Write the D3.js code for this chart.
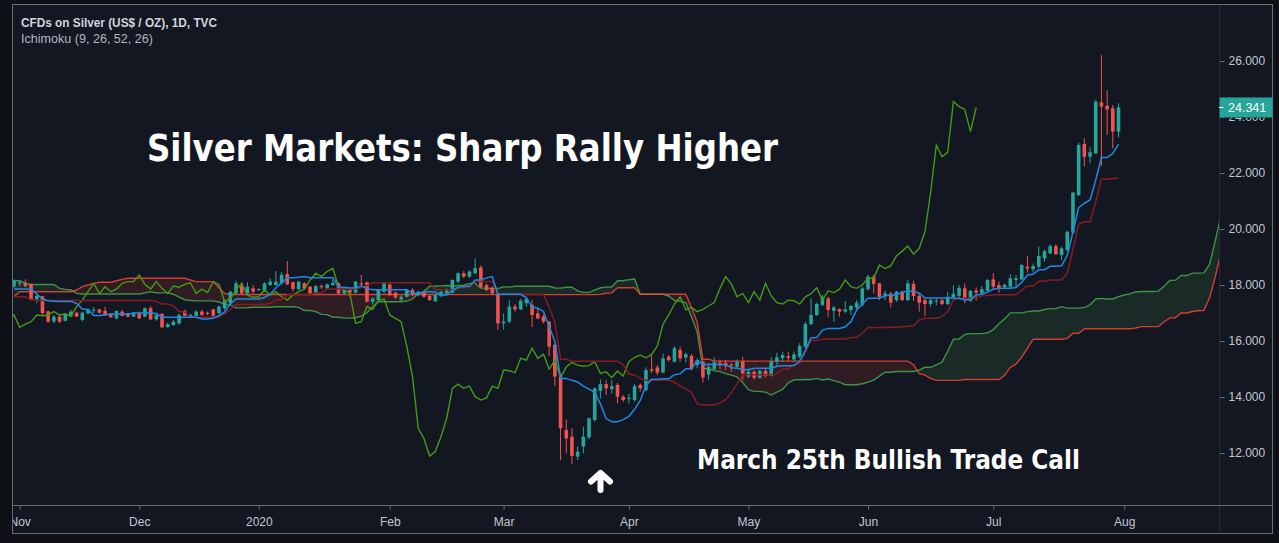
<!DOCTYPE html>
<html>
<head>
<meta charset="utf-8">
<script src="https://cdn.jsdelivr.net/npm/d3@7"></script>
<style>
  html, body { margin: 0; padding: 0; background: #0e1015; }
  svg { display: block; }
</style>
</head>
<body>
<svg id="chart" width="1279" height="543"></svg>
<script>
// daily bars, Oct 31 2019 .. Jul 31 2020 (index 0 .. 194)
var opens = [
  17.95,18.05,18.08,18.03,17.49,17.60,17.06,16.70,16.87,16.72,
  16.88,17.01,16.75,16.99,17.08,17.13,17.08,16.97,16.81,17.05,
  16.99,16.87,17.01,16.87,17.17,16.77,16.97,16.50,16.57,16.63,
  17.08,16.88,16.90,17.05,17.01,17.13,16.99,17.17,17.35,17.70,
  17.96,17.70,17.88,17.82,17.80,18.00,18.00,18.06,18.39,18.10,
  17.85,18.06,17.94,17.73,17.96,17.88,18.00,18.06,17.70,17.82,
  17.73,18.06,18.10,17.40,17.46,17.76,18.02,17.73,17.48,17.58,
  17.82,17.64,17.76,17.61,17.42,17.60,17.70,17.73,18.12,18.42,
  18.30,18.42,18.63,18.00,17.90,17.70,16.63,16.69,17.23,17.13,
  17.35,17.29,16.99,16.87,16.69,15.86,14.73,12.82,12.58,11.87,
  12.23,12.56,13.18,14.22,14.46,14.28,14.43,14.01,13.93,13.89,
  14.43,14.25,14.99,15.06,14.87,15.44,15.26,15.68,15.41,15.47,
  15.14,15.26,14.80,15.00,15.22,15.22,15.16,15.08,15.26,14.73,
  14.90,14.69,14.93,14.75,15.26,15.38,15.46,15.34,15.44,15.80,
  16.60,16.93,17.29,17.52,17.08,17.14,17.05,17.11,17.20,17.29,
  17.85,18.30,18.06,17.61,17.70,17.46,17.76,17.46,18.04,17.61,
  17.46,17.32,17.41,17.46,17.32,17.55,17.61,17.88,17.44,17.80,
  17.70,17.80,18.20,18.00,17.92,17.94,18.18,18.20,18.65,18.56,
  18.65,18.95,19.13,19.39,19.07,19.25,19.87,21.21,23.04,22.58,
  22.70,24.52,24.40,24.31,23.48
];
var highs = [
  18.20,18.15,18.20,18.05,17.65,17.62,17.08,16.93,16.95,17.00,
  17.10,17.05,17.05,17.15,17.20,17.15,17.22,17.00,17.10,17.10,
  17.00,17.05,17.05,17.20,17.25,16.95,17.00,16.65,16.75,16.98,
  17.12,16.98,17.10,17.12,17.05,17.15,17.27,17.50,17.80,18.15,
  18.10,18.10,18.00,17.88,18.10,18.24,18.50,18.45,18.86,18.12,
  18.15,18.10,17.96,18.00,18.02,18.06,18.20,18.10,17.92,17.86,
  18.15,18.36,18.12,17.56,17.85,18.10,18.10,17.76,17.62,17.86,
  17.88,17.80,17.80,17.64,17.68,17.80,17.88,18.20,18.45,18.50,
  18.52,18.95,18.70,18.05,17.95,17.72,16.99,17.46,17.32,17.50,
  17.58,17.46,17.17,16.95,16.72,15.90,14.85,13.20,12.88,12.23,
  12.94,13.27,14.34,14.63,14.61,14.61,14.50,14.07,14.13,14.46,
  14.48,15.06,15.50,15.14,15.54,15.50,15.82,15.80,15.58,15.54,
  15.38,15.30,15.20,15.42,15.34,15.32,15.22,15.34,15.44,15.02,
  14.96,14.98,15.00,15.42,15.58,15.62,15.62,15.62,15.92,16.69,
  17.52,17.37,17.64,17.58,17.25,17.17,17.43,17.29,17.46,17.94,
  18.36,18.36,18.08,17.80,17.76,17.79,17.80,18.18,18.15,17.70,
  17.52,17.52,17.52,17.52,17.76,17.99,17.99,18.06,17.82,17.92,
  17.96,18.21,18.42,18.12,18.06,18.39,18.36,18.75,19.04,18.77,
  19.37,19.27,19.46,19.46,19.37,19.94,21.33,23.08,23.24,22.92,
  24.61,26.21,24.96,24.43,24.49
];
var lows = [
  17.90,17.95,17.92,17.45,17.35,16.93,16.65,16.63,16.63,16.70,
  16.85,16.85,16.70,16.95,17.00,16.99,16.90,16.83,16.78,16.88,
  16.85,16.85,16.78,16.85,16.75,16.72,16.45,16.47,16.55,16.58,
  16.88,16.85,16.88,16.90,16.92,16.85,16.96,17.10,17.30,17.65,
  17.65,17.65,17.70,17.80,17.75,17.97,17.98,18.02,18.00,17.76,
  17.82,17.85,17.66,17.70,17.85,17.85,17.97,17.66,17.64,17.58,
  17.70,18.00,17.38,17.30,17.42,17.70,17.60,17.50,17.42,17.55,
  17.60,17.60,17.55,17.44,17.40,17.56,17.66,17.70,18.06,18.25,
  18.25,18.38,17.90,17.78,17.65,16.39,16.40,16.63,17.05,17.10,
  17.23,16.50,16.77,16.63,15.46,14.39,11.75,11.99,11.61,11.75,
  11.99,12.49,13.12,13.95,14.07,14.13,13.77,13.83,13.77,13.83,
  14.19,14.19,14.85,14.78,14.85,15.26,15.23,15.26,15.23,14.96,
  15.02,14.51,14.61,14.95,14.98,14.96,14.90,15.02,14.61,14.67,
  14.63,14.65,14.70,14.73,15.14,15.26,15.28,15.26,15.38,15.74,
  16.57,16.89,17.25,16.85,16.69,16.87,16.99,16.93,17.13,17.23,
  17.80,17.70,17.46,17.46,17.20,17.40,17.43,17.43,17.43,17.05,
  16.89,17.23,17.28,17.28,17.28,17.46,17.52,17.34,17.40,17.44,
  17.68,17.76,17.82,17.72,17.88,17.88,17.92,18.18,18.44,18.44,
  18.60,18.83,19.10,19.07,18.89,19.19,19.85,21.18,22.23,22.35,
  22.68,22.25,23.36,22.88,23.27
];
var closes = [
  18.15,18.08,17.96,17.49,17.61,17.00,16.69,16.87,16.69,16.97,
  17.05,16.87,17.01,17.13,17.12,17.01,16.93,16.85,17.07,16.90,
  16.87,17.01,16.81,17.17,16.77,16.93,16.49,16.60,16.69,16.93,
  16.90,16.93,17.05,16.93,16.97,16.90,17.23,17.46,17.76,18.06,
  17.70,17.94,17.76,17.85,18.06,18.12,18.12,18.36,18.02,17.86,
  18.12,17.88,17.70,17.96,17.92,18.02,18.08,17.70,17.85,17.73,
  18.12,18.02,17.40,17.52,17.82,18.06,17.64,17.56,17.58,17.82,
  17.64,17.76,17.58,17.46,17.64,17.76,17.85,18.18,18.42,18.30,
  18.48,18.60,17.92,17.82,17.70,16.63,16.69,17.23,17.13,17.44,
  17.50,16.93,16.81,16.69,15.80,14.73,12.88,12.52,11.89,12.05,
  12.58,13.24,14.31,14.46,14.31,14.39,14.01,13.89,13.97,14.39,
  14.31,14.96,14.94,14.87,15.38,15.32,15.74,15.38,15.53,14.99,
  15.32,14.70,15.07,15.24,15.14,15.10,15.12,15.26,14.84,14.90,
  14.69,14.93,14.75,15.26,15.42,15.50,15.40,15.52,15.82,16.60,
  16.93,17.32,17.58,17.11,17.20,17.05,17.13,17.25,17.37,17.88,
  18.30,18.04,17.58,17.70,17.37,17.76,17.46,18.06,17.61,17.37,
  17.32,17.46,17.44,17.32,17.58,17.69,17.90,17.46,17.79,17.73,
  17.85,18.18,17.94,17.88,18.00,18.24,18.24,18.71,18.59,18.68,
  19.04,19.21,19.39,19.10,19.31,19.90,21.30,23.00,22.58,22.74,
  24.55,24.37,24.27,23.48,24.34
];

// ichimoku values at the left edge (their history is off-chart)
var tenkanLead = [17.86,17.86,17.86,17.86,17.68,17.50,17.44,17.42];
var kijunLead = [17.58,17.58,17.58,17.48,17.45,17.45,17.45,17.45,17.45,17.45,
  17.45,17.45,17.45,17.45,17.45,17.45,17.45,17.45,17.45,17.45,
  17.45,17.45,17.45,17.45,17.45];
var spanALead = [18.15,18.15,18.06,18.02,18.02,18.02,18.02,18.02,17.88,17.84,
  17.82,17.70,17.68,17.68,17.68,17.68,17.68,17.68,17.68,17.68,
  17.68,17.68,17.68,17.72,17.76];
var spanBLead = [17.58,17.76,17.76,17.76,17.76,17.76,17.76,17.76,17.76,17.76,
  17.76,17.82,17.94,18.00,18.06,18.10,18.10,18.10,18.15,18.20,
  18.24,18.24,18.24,18.24,18.24,18.24,18.24,18.24,18.24,18.24,
  18.24,18.18,18.12,18.12,18.12,18.12,17.90,17.70,17.66,17.66,
  17.66,17.66,17.66,17.66,17.66,17.66,17.66,17.66,17.66,17.66,
  17.66,17.66,17.66,17.66,17.66,17.66,17.66,17.66,17.66,17.66,
  17.66,17.66,17.66,17.66,17.66,17.66,17.66,17.66,17.66,17.66,
  17.66,17.66,17.66,17.66,17.66,17.66];

var monthLabels = ['Nov', 'Dec', '2020', 'Feb', 'Mar', 'Apr', 'May', 'Jun', 'Jul', 'Aug'];
var monthBars = [1, 22, 43, 66, 86, 108, 129, 150, 172, 195];
var priceTicks = [12, 14, 16, 18, 20, 22, 24, 26];
var lastPrice = 24.341;

var UP = '#26a69a', DOWN = '#ef5350';

// ichimoku (9, 26, 52, 26) -- tradingview draws the displaced spans 25 bars over
var n = closes.length, shift = 25;
function midRange(end, len) {
  var hi = -Infinity, lo = Infinity;
  for (var k = end - len + 1; k <= end; k++) {
    hi = Math.max(hi, highs[k]);
    lo = Math.min(lo, lows[k]);
  }
  return (hi + lo) / 2;
}
var tenkan = d3.range(n).map(function (i) {
  return i < tenkanLead.length ? tenkanLead[i] : midRange(i, 9);
});
var kijun = d3.range(n).map(function (i) {
  return i < kijunLead.length ? kijunLead[i] : midRange(i, 26);
});
var spanA = d3.range(n + shift).map(function (t) {
  return t < spanALead.length ? spanALead[t] : (tenkan[t - shift] + kijun[t - shift]) / 2;
});
var spanB = d3.range(n + shift).map(function (t) {
  return t < spanBLead.length ? spanBLead[t] : midRange(t - shift, 52);
});

var svg = d3.select('#chart');
var L = 12, T = 4, R = 1219, B = 505;

var x = d3.scaleLinear().domain([0, n - 1]).range([14, 1118.5]);
var y = d3.scaleLinear().domain([12, 26]).range([453, 61]);

svg.append('rect').attr('width', 1279).attr('height', 543).attr('fill', '#0e1015');
svg.append('rect').attr('x', L).attr('y', T).attr('width', 1273 - L).attr('height', 534 - T).attr('fill', '#131722');

var defs = svg.append('defs');
defs.append('clipPath').attr('id', 'plotClip')
  .append('rect').attr('x', L).attr('y', T).attr('width', R - L).attr('height', B - T);

var cloudIdx = d3.range(n + shift);
// regions above each span, used to split the cloud by colour
defs.append('clipPath').attr('id', 'aboveB').append('path')
  .attr('d', d3.area().x(function (t) { return x(t); }).y0(function (t) { return y(spanB[t]); }).y1(0)(cloudIdx));
defs.append('clipPath').attr('id', 'aboveA').append('path')
  .attr('d', d3.area().x(function (t) { return x(t); }).y0(function (t) { return y(spanA[t]); }).y1(0)(cloudIdx));

var plot = svg.append('g').attr('clip-path', 'url(#plotClip)');

var cloud = d3.area()
  .x(function (t) { return x(t); })
  .y0(function (t) { return y(spanA[t]); })
  .y1(function (t) { return y(spanB[t]); });

plot.append('path').attr('d', cloud(cloudIdx)).attr('clip-path', 'url(#aboveB)')
  .attr('fill', 'rgba(67,160,71,0.15)');
plot.append('path').attr('d', cloud(cloudIdx)).attr('clip-path', 'url(#aboveA)')
  .attr('fill', 'rgba(244,67,54,0.13)');

function lineOf(arr, off) {
  return d3.line()
    .x(function (d, i) { return x(i + (off || 0)); })
    .y(function (d) { return y(d); })(arr);
}

plot.append('path').attr('d', lineOf(spanA)).attr('fill', 'none')
  .attr('stroke', '#43a047').attr('stroke-opacity', 0.9).attr('stroke-width', 1.4);
plot.append('path').attr('d', lineOf(spanB)).attr('fill', 'none')
  .attr('stroke', '#f44336').attr('stroke-opacity', 0.85).attr('stroke-width', 1.4);

// candles
var bars = plot.append('g').selectAll('g').data(closes).enter().append('g');
bars.append('line')
  .attr('x1', function (d, i) { return x(i); })
  .attr('x2', function (d, i) { return x(i); })
  .attr('y1', function (d, i) { return y(highs[i]); })
  .attr('y2', function (d, i) { return y(lows[i]); })
  .attr('stroke', function (d, i) { return d >= opens[i] ? UP : DOWN; })
  .attr('stroke-width', 1);
bars.append('rect')
  .attr('x', function (d, i) { return x(i) - 1.8; })
  .attr('width', 3.6)
  .attr('y', function (d, i) { return y(Math.max(d, opens[i])); })
  .attr('height', function (d, i) { return Math.max(1, Math.abs(y(d) - y(opens[i]))); })
  .attr('fill', function (d, i) { return d >= opens[i] ? UP : DOWN; });

// lagging span, kijun, tenkan
plot.append('path').attr('d', lineOf(closes, -shift)).attr('fill', 'none')
  .attr('stroke', '#459915').attr('stroke-width', 1.4);
plot.append('path').attr('d', lineOf(kijun)).attr('fill', 'none')
  .attr('stroke', '#861c22').attr('stroke-width', 1.5);
plot.append('path').attr('d', lineOf(tenkan)).attr('fill', 'none')
  .attr('stroke', '#1e88e5').attr('stroke-width', 1.5);

// frame
var LINE = '#686c76';
svg.append('rect').attr('x', L + 0.5).attr('y', T + 0.5).attr('width', 1273 - L - 1).attr('height', 534 - T - 1)
  .attr('fill', 'none').attr('stroke', LINE);

var boxTop = y(lastPrice) - 10, boxBottom = y(lastPrice) + 10;

// price axis; the label hidden by the last-price box only shows below it
defs.append('clipPath').attr('id', 'priceClip')
  .append('path').attr('d', 'M0,0H60V' + boxTop + 'H0Z M0,' + boxBottom + 'H60V543H0Z');
var yAxis = svg.append('g').attr('transform', 'translate(' + (R + 0.5) + ',0)')
  .call(d3.axisRight(y).tickValues(priceTicks).tickFormat(d3.format('.3f')).tickSize(5).tickPadding(4));
yAxis.select('.domain').attr('stroke', LINE).attr('d', 'M0,' + T + 'V534');
yAxis.selectAll('line').attr('stroke', LINE);
yAxis.selectAll('text').attr('fill', '#c3c6ce').style('font', '12px "Liberation Sans", Arial, sans-serif');
yAxis.attr('clip-path', 'url(#priceClip)');

// time axis, cut at the left edge of the frame
defs.append('clipPath').attr('id', 'timeClip')
  .append('rect').attr('x', L + 1).attr('y', -1).attr('width', 1273 - L - 2).attr('height', 28);
var xAxis = svg.append('g').attr('transform', 'translate(0,' + (B + 0.5) + ')')
  .call(d3.axisBottom(x).tickValues(monthBars).tickFormat(function (d, i) { return monthLabels[i]; })
    .tickSize(4).tickPadding(8));
xAxis.select('.domain').attr('stroke', LINE).attr('d', 'M' + L + ',0H1273');
xAxis.selectAll('line').attr('stroke', LINE);
xAxis.selectAll('text').attr('fill', '#c3c6ce').style('font', '12px "Liberation Sans", Arial, sans-serif');
xAxis.attr('clip-path', 'url(#timeClip)');

// last price marker
var lp = svg.append('g');
lp.append('rect').attr('x', R + 0.5).attr('y', boxTop).attr('width', 53).attr('height', 20)
  .attr('fill', UP);
lp.append('line').attr('x1', R).attr('x2', R + 4.5).attr('y1', y(lastPrice)).attr('y2', y(lastPrice))
  .attr('stroke', '#ffffff');
lp.append('text').attr('x', R + 9).attr('y', y(lastPrice)).attr('dy', '0.35em')
  .attr('fill', '#ffffff').style('font', '12.5px "Liberation Sans", Arial, sans-serif').text(lastPrice.toFixed(3));

// legend
svg.append('text').attr('x', 21).attr('y', 27).attr('fill', '#d1d4dc')
  .style('font', 'bold 12px "Liberation Sans", Arial, sans-serif')
  .attr('textLength', 196).attr('lengthAdjust', 'spacingAndGlyphs')
  .text('CFDs on Silver (US$ / OZ), 1D, TVC');
svg.append('text').attr('x', 21).attr('y', 43).attr('fill', '#b2b5be')
  .style('font', '12.5px "Liberation Sans", Arial, sans-serif')
  .attr('textLength', 132).attr('lengthAdjust', 'spacingAndGlyphs')
  .text('Ichimoku (9, 26, 52, 26)');

// annotations
svg.append('text').attr('x', 147).attr('y', 161).attr('fill', '#ffffff')
  .style('font', 'bold 37px "DejaVu Sans", sans-serif')
  .attr('textLength', 631).attr('lengthAdjust', 'spacingAndGlyphs')
  .text('Silver Markets: Sharp Rally Higher');
svg.append('text').attr('x', 697).attr('y', 469).attr('fill', '#ffffff')
  .style('font', 'bold 26.5px "DejaVu Sans", sans-serif')
  .attr('textLength', 383).attr('lengthAdjust', 'spacingAndGlyphs')
  .text('March 25th Bullish Trade Call');
svg.append('path')
  .attr('d', 'M591,481.5L600.5,473L610,481.5M600.5,474V490')
  .attr('fill', 'none').attr('stroke', '#ffffff').attr('stroke-width', 6)
  .attr('stroke-linecap', 'round').attr('stroke-linejoin', 'round');
</script>
</body>
</html>
